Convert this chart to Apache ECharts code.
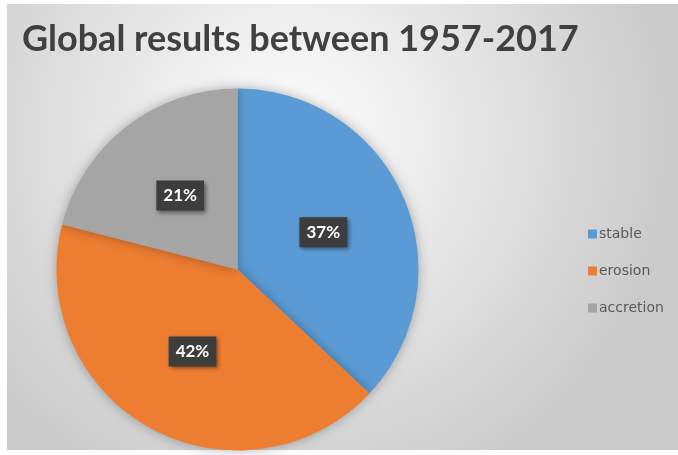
<!DOCTYPE html>
<html>
<head>
<meta charset="utf-8">
<script src="https://cdn.jsdelivr.net/npm/echarts@6/dist/echarts.min.js"></script>
<style>
  html, body { margin: 0; padding: 0; background: #fff; }
  #chart { width: 678px; height: 455px; }
</style>
</head>
<body>
<div id="chart"></div>
<script>
const categories = ['stable', 'erosion', 'accretion']
const values = [37, 42, 21]
const colors = ['#5B9BD5', '#ED7D31', '#A5A5A5']

const chart = echarts.init(document.getElementById('chart'))

const option = {
  animation: false,
  graphic: [
    {
      type: 'rect',
      z: -10,
      shape: { x: 7, y: 4, width: 671, height: 446 },
      style: {
        fill: new echarts.graphic.RadialGradient(0.42, 0.3, 0.85, [
          { offset: 0, color: '#ffffff' },
          { offset: 1, color: '#cbcbcb' }
        ])
      }
    }
  ],
  title: {
    text: 'Global results between 1957-2017',
    left: 17,
    top: 16,
    textStyle: {
      fontFamily: 'Lato',
      fontWeight: 'bold',
      fontSize: 36,
      color: '#404040'
    }
  },
  legend: {
    orient: 'vertical',
    left: 583,
    top: 222,
    itemWidth: 9,
    itemHeight: 9,
    itemGap: 23,
    icon: 'rect',
    data: categories,
    textStyle: {
      fontFamily: 'DejaVu Sans',
      fontSize: 14,
      color: '#595959',
      padding: [0, 0, 0, -3]
    }
  },
  series: [
    {
      type: 'pie',
      center: [237.5, 269.5],
      radius: 181,
      startAngle: 90,
      clockwise: true,
      data: categories.map((name, i) => ({
        name,
        value: values[i],
        itemStyle: { color: colors[i] }
      })),
      itemStyle: {
        shadowBlur: 12,
        shadowColor: 'rgba(0,0,0,0.3)'
      },
      label: {
        position: 'inside',
        formatter: '{d}%',
        fontFamily: 'Lato',
        fontWeight: 'bold',
        fontSize: 17,
        color: '#ffffff',
        backgroundColor: '#3d3d3d',
        padding: [7, 7, 6, 7],
        shadowBlur: 4,
        shadowOffsetX: 2,
        shadowOffsetY: 2,
        shadowColor: 'rgba(0,0,0,0.45)'
      },
      labelLine: { show: false },
      emphasis: { disabled: true }
    }
  ]
}

chart.setOption(option)
</script>
</body>
</html>
